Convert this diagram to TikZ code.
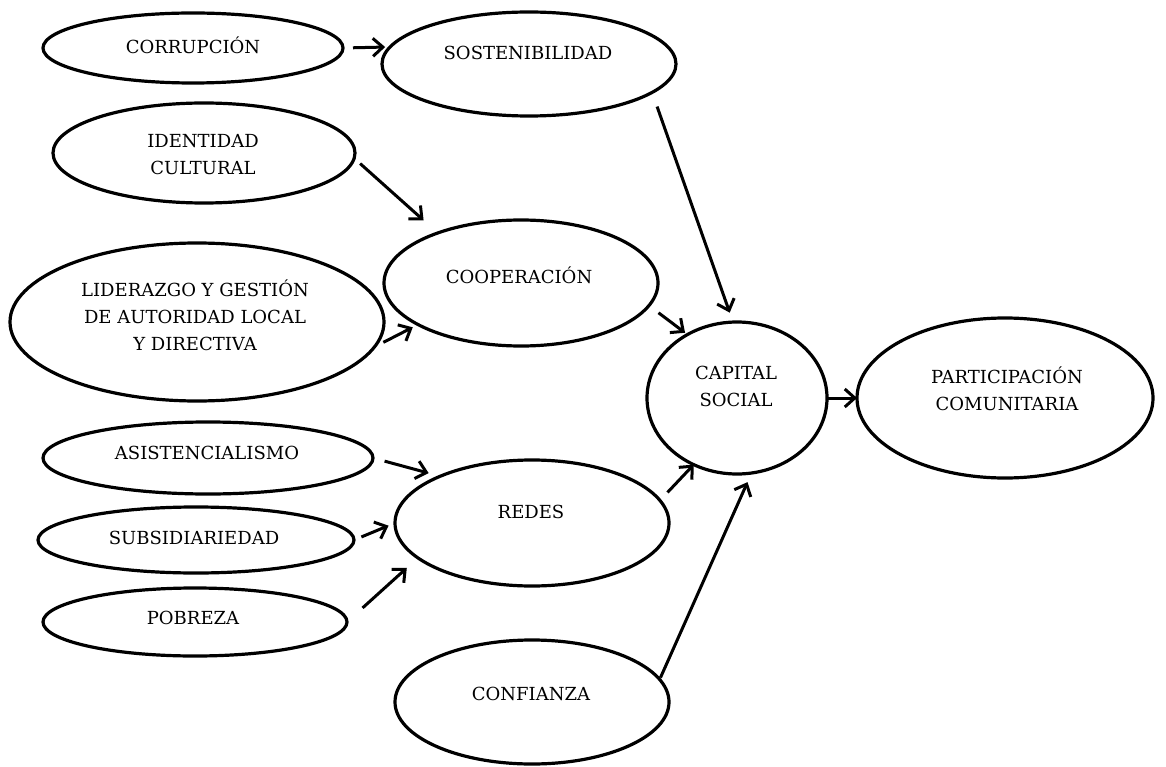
\documentclass[tikz,border=0pt]{standalone}
\usepackage{fontspec}
\setmainfont{DejaVu Serif}
\usetikzlibrary{shapes.geometric,arrows.meta}
\begin{document}
\begin{tikzpicture}[x=1pt,y=-1pt,
  oval/.style={ellipse, draw, line width=3.2pt, inner sep=0pt, outer sep=0pt},
  lbl/.style={font=\fontsize{18}{27}\selectfont, align=center, inner sep=0pt},
  arr/.style={line width=3pt, -{Straight Barb[length=10pt,width=18pt]}}]
\useasboundingbox (0,0) rectangle (1166,767);
% ellipses
\node[oval, minimum width=300pt, minimum height=70pt]  (corr)    at (193,48)  {};
\node[oval, minimum width=294pt, minimum height=104pt] (sost)    at (529,64)  {};
\node[oval, minimum width=302pt, minimum height=100pt] (ident)   at (204,153) {};
\node[oval, minimum width=274pt, minimum height=126pt] (coop)    at (521,283) {};
\node[oval, minimum width=374pt, minimum height=158pt] (lider)   at (197,322) {};
\node[oval, minimum width=180pt, minimum height=152pt] (cap)     at (737,398) {};
\node[oval, minimum width=296pt, minimum height=160pt] (part)    at (1005,398) {};
\node[oval, minimum width=330pt, minimum height=72pt]  (asist)   at (208,458) {};
\node[oval, minimum width=274pt, minimum height=126pt] (redes)   at (532,523) {};
\node[oval, minimum width=316pt, minimum height=66pt]  (subsid)  at (196,540) {};
\node[oval, minimum width=304pt, minimum height=68pt]  (pobreza) at (195,622) {};
\node[oval, minimum width=274pt, minimum height=124pt] (conf)    at (532,702) {};
% labels
\node[lbl] (tcorr)    at (193,45)    {CORRUPCIÓN};
\node[lbl] (tsost)    at (528,53)    {SOSTENIBILIDAD};
\node[lbl] (tident)   at (203,154.5) {IDENTIDAD\\CULTURAL};
\node[lbl] (tcoop)    at (519,275)   {COOPERACIÓN};
\node[lbl] (tlider)   at (195,315)   {LIDERAZGO Y GESTIÓN\\DE AUTORIDAD LOCAL\\Y DIRECTIVA};
\node[lbl] (tcap)     at (736,386.5) {CAPITAL\\SOCIAL};
\node[lbl] (tpart)    at (1007,388.5){PARTICIPACIÓN\\COMUNITARIA};
\node[lbl] (tasist)   at (207,453)   {ASISTENCIALISMO};
\node[lbl] (tsubsid)  at (194,538)   {SUBSIDIARIEDAD};
\node[lbl] (tpobreza) at (193,618)   {POBREZA};
\node[lbl] (tredes)   at (531,512)   {REDES};
\node[lbl] (tconf)    at (531,694)   {CONFIANZA};
% arrows
\draw[arr, shorten <=10pt, shorten >=5pt]  (corr.east) -- (sost.173);
\draw[arr, shorten <=15pt, shorten >=10pt] (sost.-13) -- (cap.93);
\draw[arr, shorten <=8pt, shorten >=19pt]  (ident.-2) -- (coop.149);
\draw[arr, shorten <=10pt, shorten >=6pt]  (lider.-8) -- (coop.202);
\draw[arr, shorten <=12pt, shorten >=3pt]  (coop.-10) -- (cap.128);
\draw[arr] (cap.east) -- (part.west);
\draw[arr, shorten <=12pt, shorten >=12pt] (asist.east) -- (redes.153);
\draw[arr, shorten <=8pt, shorten >=7pt]   (subsid.east) -- (redes.west);
\draw[arr, shorten <=21pt, shorten >=15pt] (pobreza.east) -- (redes.197);
\draw[arr, shorten <=11pt] (redes.10) -- (cap.237);
\draw[arr, shorten <=2pt, shorten >=10pt]  (conf.10) -- (cap.281);
\end{tikzpicture}
\end{document}
